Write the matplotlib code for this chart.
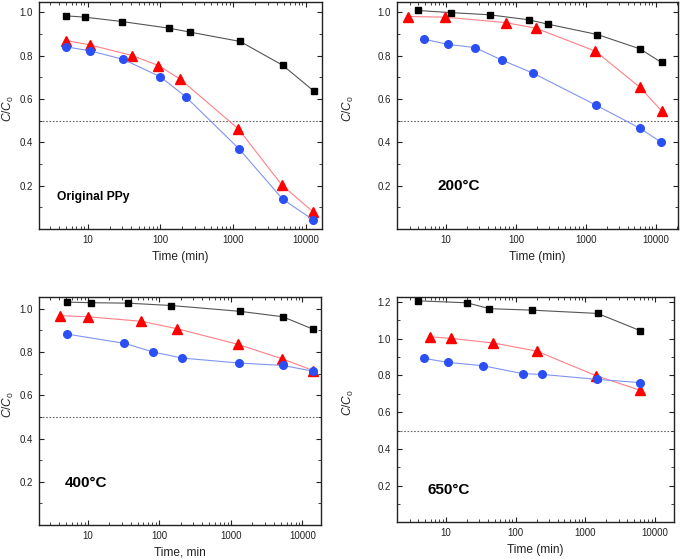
import matplotlib
matplotlib.use("Agg")
import matplotlib.pyplot as plt
from matplotlib.ticker import LogLocator, MultipleLocator, NullFormatter, FixedLocator, FixedFormatter

plt.rcParams['font.family'] = ['Liberation Sans', 'DejaVu Sans']
plt.rcParams['mathtext.fontset'] = 'custom'
plt.rcParams['mathtext.rm'] = 'Liberation Sans'
plt.rcParams['mathtext.it'] = 'Liberation Sans:italic'

# ---- data ----
# Panel 1: Original PPy
p1_sq_t = [5.1, 9.2, 29.4, 133, 256, 1250, 4820, 12800]
p1_sq_c = [0.983, 0.977, 0.957, 0.926, 0.908, 0.865, 0.755, 0.637]
p1_tr_t = [5.1, 10.8, 41, 94, 187, 1180, 4680, 12500]
p1_tr_c = [0.869, 0.849, 0.800, 0.754, 0.691, 0.462, 0.203, 0.080]
p1_ci_t = [5.1, 10.8, 31, 100, 225, 1220, 4790, 12500]
p1_ci_c = [0.840, 0.822, 0.782, 0.702, 0.609, 0.368, 0.138, 0.043]

# Panel 2: 200°C
p2_sq_t = [3.9, 11.8, 42, 152, 285, 1470, 5960, 12200]
p2_sq_c = [1.008, 0.998, 0.988, 0.965, 0.945, 0.897, 0.831, 0.768]
p2_tr_t = [2.88, 9.8, 71, 194, 1380, 5960, 12200]
p2_tr_c = [0.980, 0.977, 0.952, 0.926, 0.820, 0.654, 0.545]
p2_ci_t = [4.9, 10.8, 25.8, 64, 173, 1410, 5960, 12100]
p2_ci_c = [0.875, 0.851, 0.837, 0.778, 0.720, 0.571, 0.465, 0.400]

# Panel 3: 400°C
p3_sq_t = [5.1, 11, 36, 146, 1350, 5310, 14200]
p3_sq_c = [1.031, 1.028, 1.026, 1.015, 0.988, 0.963, 0.905]
p3_tr_t = [4.1, 10, 56, 175, 1270, 5250, 14200]
p3_tr_c = [0.968, 0.963, 0.942, 0.908, 0.835, 0.768, 0.714]
p3_ci_t = [5.1, 32.5, 82, 208, 1300, 5310, 14200]
p3_ci_c = [0.883, 0.840, 0.800, 0.772, 0.749, 0.738, 0.711]

# Panel 4: 650°C
p4_sq_t = [3.9, 20, 42, 170, 1500, 6150]
p4_sq_c = [1.207, 1.196, 1.164, 1.156, 1.138, 1.044]
p4_tr_t = [5.9, 11.9, 48, 200, 1420, 6150]
p4_tr_c = [1.011, 1.002, 0.977, 0.933, 0.799, 0.719]
p4_ci_t = [4.9, 10.8, 34, 126, 239, 1460, 6150]
p4_ci_c = [0.893, 0.871, 0.853, 0.810, 0.806, 0.779, 0.761]

panel_labels = ["Original PPy", "200°C", "400°C", "650°C"]
x_labels = ["Time (min)", "Time (min)", "Time, min", "Time (min)"]
x_ticks = [10, 100, 1000, 10000]
x_tick_labels = ["10", "100", "1000", "10000"]

panels = [
    (p1_sq_t, p1_sq_c, p1_tr_t, p1_tr_c, p1_ci_t, p1_ci_c),
    (p2_sq_t, p2_sq_c, p2_tr_t, p2_tr_c, p2_ci_t, p2_ci_c),
    (p3_sq_t, p3_sq_c, p3_tr_t, p3_tr_c, p3_ci_t, p3_ci_c),
    (p4_sq_t, p4_sq_c, p4_tr_t, p4_tr_c, p4_ci_t, p4_ci_c),
]

# ---- layout ----
W, H = 680, 559
rects = [
    (39, 2, 322, 229),
    (396.7, 2, 678, 229),
    (39, 297.3, 320.7, 525),
    (396.7, 297.3, 674.3, 522.3),
]
ylabel_x_px = [16, 356, 16, 356]
xlims = [(2.14, 16700), (1.96, 21000), (2.08, 18000), (1.96, 18900)]
ylims = [(0, 1.047), (0, 1.047), (0, 1.053), (0, 1.226)]
ymax_tick = [1.0, 1.0, 1.0, 1.2]
text_pos = [(0.064, 0.141, 8.7), (0.144, 0.189, 11), (0.092, 0.183, 11), (0.110, 0.144, 11)]

fig = plt.figure(figsize=(W / 100, H / 100), dpi=100)

for i, (data, rect) in enumerate(zip(panels, rects)):
    l, t, r, b = rect
    ax = fig.add_axes([l / W, 1 - b / H, (r - l) / W, (b - t) / H])
    sq_t, sq_c, tr_t, tr_c, ci_t, ci_c = data
    ax.set_xscale('log')
    ax.axhline(0.5, color='#666666', lw=0.8, ls=(0, (1.5, 1.5)), zorder=1)
    ax.plot(sq_t, sq_c, color='#555555', lw=0.8, marker='s', ms=5,
            mfc='black', mec='black', zorder=3, clip_on=False)
    ax.plot(tr_t, tr_c, color='#ff7f86', lw=0.8, marker='^', ms=6.5,
            mfc='#ff0000', mec='#ff0000', zorder=3, clip_on=False)
    ax.plot(ci_t, ci_c, color='#8095f0', lw=0.8, marker='o', ms=5.5,
            mfc='#2a50f5', mec='#2a50f5', zorder=3, clip_on=False)
    ax.set_xlim(*xlims[i])
    ax.set_ylim(*ylims[i])
    ax.xaxis.set_major_locator(FixedLocator(x_ticks))
    ax.xaxis.set_major_formatter(FixedFormatter(x_tick_labels))
    ax.xaxis.set_minor_locator(LogLocator(base=10, subs=range(2, 10), numticks=20))
    ax.xaxis.set_minor_formatter(NullFormatter())
    yt = [round(0.2 * k, 1) for k in range(1, int(round(ymax_tick[i] / 0.2)) + 1)]
    ax.yaxis.set_major_locator(FixedLocator(yt))
    ax.yaxis.set_major_formatter(FixedFormatter([f"{v:.1f}" for v in yt]))
    ax.yaxis.set_minor_locator(MultipleLocator(0.1))
    ax.tick_params(which='both', direction='in', top=True, right=True,
                   labelsize=7, colors='#222222', labelcolor='#222222')
    ax.tick_params(which='major', length=3.5, width=0.8)
    ax.tick_params(which='minor', length=2, width=0.6)
    ax.tick_params(axis='y', which='major', pad=4.3)
    ax.tick_params(axis='x', which='major', pad=4.3)
    for s in ax.spines.values():
        s.set_linewidth(1.0)
        s.set_color('#222222')
    ax.set_xlabel(x_labels[i], fontsize=8.6, labelpad=4, color='#222222')
    ax.set_ylabel(r'$C/C_\mathrm{0}$', fontsize=8.6, color='#222222')
    ax.yaxis.set_label_coords((ylabel_x_px[i] - l) / (r - l), 0.53)
    tx, ty, fs = text_pos[i]
    ax.text(tx, ty, panel_labels[i], transform=ax.transAxes, fontsize=fs,
            fontweight='bold', va='center', ha='left', color='black')

fig.savefig('out.png', dpi=100)
